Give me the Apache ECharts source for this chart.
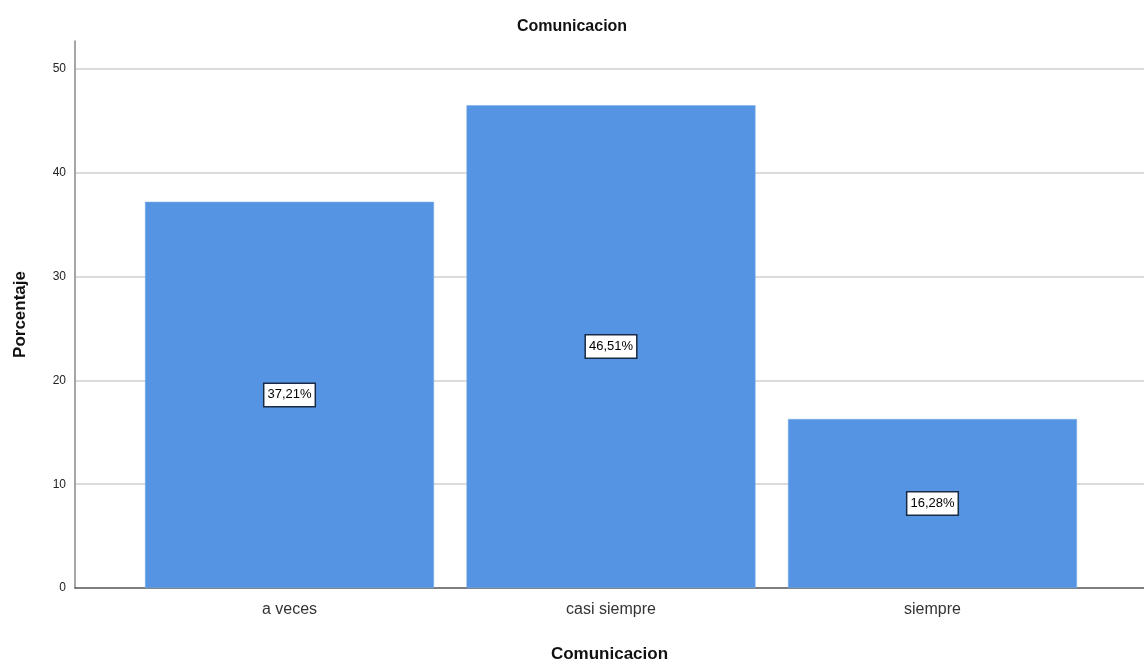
<!DOCTYPE html>
<html>
<head>
<meta charset="utf-8">
<script src="https://cdn.jsdelivr.net/npm/echarts@6/dist/echarts.min.js"></script>
<style>
  html, body { margin: 0; padding: 0; background: #fff; }
  #chart { width: 1144px; height: 666px; }
</style>
</head>
<body>
<div id="chart"></div>
<script>
// Comunicacion: percentage of responses per category
const categories = ['a veces', 'casi siempre', 'siempre'];
const percentages = [37.21, 46.51, 16.28];
const yTicks = [0, 10, 20, 30, 40, 50];

const chart = echarts.init(document.getElementById('chart'));

// bars sit at positions 0..n-1 on a numeric x scale so the plot frame can
// carry extra space on each side of the categories
const barData = percentages.map((v, i) => [i, v]);

chart.setOption({
  animation: false,
  backgroundColor: '#ffffff',
  title: {
    text: 'Comunicacion',
    left: 'center',
    top: 14,
    textStyle: { fontFamily: 'Arial, Liberation Sans, sans-serif', fontSize: 16, fontWeight: 'bold', color: '#111' }
  },
  grid: { left: 75, right: 0, top: 41, bottom: 78, containLabel: false, outerBoundsMode: 'none' },
  xAxis: {
    type: 'value',
    min: -0.6672,
    max: 2.6579,
    name: 'Comunicacion',
    nameLocation: 'middle',
    nameGap: 58,
    nameTextStyle: { fontFamily: 'Arial, Liberation Sans, sans-serif', fontSize: 17, fontWeight: 'bold', color: '#111' },
    axisLine: { show: true, onZero: false, lineStyle: { color: '#555', width: 1.5 } },
    axisTick: { show: false },
    splitLine: { show: false },
    axisLabel: {
      customValues: categories.map((c, i) => i),
      formatter: v => categories[Math.round(v)] || '',
      margin: 14,
      fontFamily: 'Arial, Liberation Sans, sans-serif',
      fontSize: 16,
      color: '#333'
    }
  },
  yAxis: {
    type: 'value',
    min: 0,
    max: 52.7,
    interval: 10,
    name: 'Porcentaje',
    nameLocation: 'middle',
    nameGap: 46,
    nameTextStyle: { fontFamily: 'Arial, Liberation Sans, sans-serif', fontSize: 17, fontWeight: 'bold', color: '#111' },
    axisLine: { show: true, onZero: false, lineStyle: { color: '#888', width: 1.5 } },
    axisTick: { show: false },
    axisLabel: {
      customValues: yTicks,
      margin: 9,
      fontFamily: 'Arial, Liberation Sans, sans-serif',
      fontSize: 12,
      color: '#222'
    },
    splitLine: {
      show: true,
      showMinLine: false,
      showMaxLine: false,
      lineStyle: { color: '#cfcfcf', width: 1.5 }
    }
  },
  series: [{
    type: 'bar',
    data: barData,
    barWidth: 289,
    itemStyle: { color: '#5494e2', borderColor: '#7aaeea', borderWidth: 0.5 },
    label: {
      show: true,
      position: 'inside',
      formatter: p => p.value[1].toFixed(2).replace('.', ',') + '%',
      fontFamily: 'Arial, Liberation Sans, sans-serif',
      fontSize: 13,
      color: '#000',
      backgroundColor: '#fff',
      borderColor: '#1a2a44',
      borderWidth: 1.5,
      padding: [5, 3, 4, 3]
    }
  }]
});
</script>
</body>
</html>
